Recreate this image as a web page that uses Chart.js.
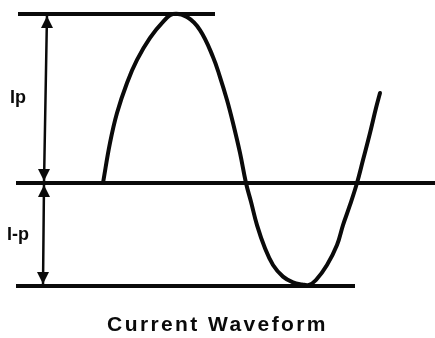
<!DOCTYPE html>
<html>
<head>
<meta charset="utf-8">
<script src="https://cdn.jsdelivr.net/npm/chart.js@4/dist/chart.umd.min.js"></script>
<style>
  html, body { margin: 0; padding: 0; background: #ffffff; }
  #wrap { width: 435px; height: 338px; position: relative; }
</style>
</head>
<body>
<div id="wrap"><canvas id="c" width="435" height="338"></canvas></div>
<script>
// ---- data (time in arbitrary units, current normalised to Ip = 1) ----
const waveT = [103, 110, 117, 127, 137, 150, 163, 173, 187, 200, 213, 220, 227, 233, 240, 246,
               251, 257, 265, 273, 283, 293, 302, 309, 316, 327, 337, 343, 350, 357, 363, 370, 376, 380];
const waveI = [0, 0.237, 0.414, 0.592, 0.728, 0.858, 0.953, 1.0, 0.982, 0.905, 0.746, 0.627, 0.491, 0.355, 0.178, 0,
               -0.111, -0.249, -0.386, -0.485, -0.554, -0.588, -0.600, -0.603, -0.574, -0.485, -0.367, -0.249, -0.130, 0, 0.136, 0.296, 0.444, 0.533];

const levelNames = ['Ip', 'zero', 'I-p'];
const levelValues = [1, 0, -0.61];
const levelStartT = [18, 16, 16];
const levelEndT = [215, 435, 355];

const arrowT = [47, 44, 43];           // the dimension arrow, top -> zero -> bottom
const labelTexts = ['Ip', 'I-p'];
const labelT = [10, 7];

const titleText = 'Current Waveform';

// ---- datasets ----
const ink = '#0a0a0a';
const datasets = [];
datasets.push({
  label: 'Current',
  data: waveT.map((t, i) => ({ x: t, y: waveI[i] })),
  borderColor: ink, borderWidth: 4, pointRadius: 0,
  tension: 0.4, borderCapStyle: 'round', borderJoinStyle: 'round',
  clip: false
});
levelValues.forEach((v, i) => {
  datasets.push({
    label: levelNames[i],
    data: [{ x: levelStartT[i], y: v }, { x: levelEndT[i], y: v }],
    borderColor: ink, borderWidth: 4, pointRadius: 0, clip: false
  });
});
datasets.push({
  label: 'dimension',
  data: arrowT.map((t, i) => ({ x: t, y: levelValues[i] })),
  borderColor: ink, borderWidth: 2.5, pointRadius: 0, clip: false
});

const arrowPlugin = {
  id: 'arrowsAndLabels',
  beforeDraw(chart) { chart.ctx.letterSpacing = '2.4px'; },
  afterDatasetsDraw(chart) {
    const { ctx, scales } = chart;
    const xs = scales.x, ys = scales.y;
    ctx.save();
    ctx.letterSpacing = '0px';
    ctx.fillStyle = ink;
    const head = (px, py, dir) => {       // dir -1 = points up, +1 = points down
      const h = 12, w = 6;
      ctx.beginPath();
      ctx.moveTo(px, py);
      ctx.lineTo(px - w, py - dir * h);
      ctx.lineTo(px + w, py - dir * h);
      ctx.closePath();
      ctx.fill();
    };
    for (let i = 0; i < arrowT.length - 1; i++) {
      const x0 = xs.getPixelForValue(arrowT[i]), y0 = ys.getPixelForValue(levelValues[i]);
      const x1 = xs.getPixelForValue(arrowT[i + 1]), y1 = ys.getPixelForValue(levelValues[i + 1]);
      head(x0, y0 + 2, -1);
      head(x1, y1 - 2, 1);
    }
    ctx.font = 'bold 18px "Liberation Sans", Arial, sans-serif';
    ctx.textAlign = 'left';
    ctx.textBaseline = 'middle';
    labelTexts.forEach((txt, i) => {
      const mid = (levelValues[i] + levelValues[i + 1]) / 2;
      ctx.fillText(txt, xs.getPixelForValue(labelT[i]), ys.getPixelForValue(mid));
    });
    ctx.restore();
  },
  afterDraw(chart) { chart.ctx.letterSpacing = '0px'; }
};

new Chart(document.getElementById('c'), {
  type: 'line',
  data: { datasets },
  options: {
    responsive: false,
    animation: false,
    events: [],
    layout: { padding: 0 },
    scales: {
      x: { type: 'linear', min: 0, max: 435, display: false },
      y: { type: 'linear', min: -0.6438, max: 1.0828, display: false }
    },
    plugins: {
      legend: { display: false },
      tooltip: { enabled: false },
      title: {
        display: true, position: 'bottom', text: titleText, color: ink,
        font: { family: '"Liberation Sans", Arial, sans-serif', size: 21, weight: 'bold', lineHeight: 1.2 },
        padding: { top: 21, bottom: 0 }
      }
    }
  },
  plugins: [arrowPlugin]
});
</script>
</body>
</html>
